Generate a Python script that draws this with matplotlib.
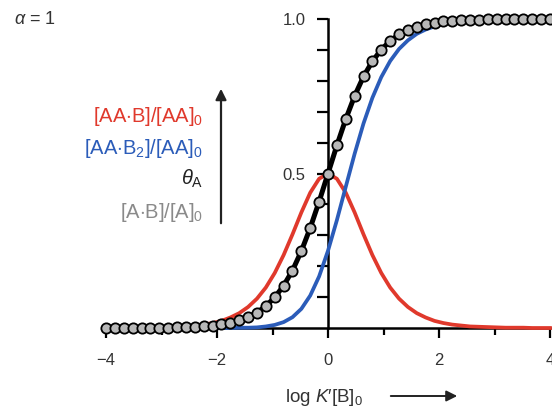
import matplotlib
matplotlib.use("Agg")
import matplotlib.pyplot as plt
import numpy as np
from matplotlib.patches import FancyArrowPatch

plt.rcParams["font.family"] = ["Liberation Sans", "DejaVu Sans"]
plt.rcParams["mathtext.fontset"] = "custom"
plt.rcParams["mathtext.rm"] = "Liberation Sans"
plt.rcParams["mathtext.it"] = "Liberation Sans:italic"
plt.rcParams["mathtext.bf"] = "Liberation Sans:bold"

# log K'[B]0 sampling grid
log_kb = np.linspace(-4, 4, 51)

# theta_A (equals [A.B]/[A]0 for alpha = 1)
theta_a = [0.000, 0.000, 0.000, 0.000, 0.000, 0.001, 0.001, 0.001, 0.002, 0.003,
           0.004, 0.006, 0.008, 0.012, 0.017, 0.025, 0.035, 0.050, 0.071, 0.099,
           0.137, 0.186, 0.249, 0.324, 0.409, 0.500, 0.591, 0.676, 0.751, 0.814,
           0.863, 0.901, 0.929, 0.950, 0.965, 0.975, 0.983, 0.988, 0.992, 0.994,
           0.996, 0.997, 0.998, 0.999, 0.999, 0.999, 1.000, 1.000, 1.000, 1.000,
           1.000]

# [A.B]/[A]0 (monovalent reference, circles)
ab_frac = list(theta_a)

# [AA.B]/[AA]0
aab_frac = [0.000, 0.000, 0.000, 0.001, 0.001, 0.001, 0.002, 0.003, 0.004, 0.005,
            0.008, 0.011, 0.016, 0.023, 0.034, 0.048, 0.068, 0.095, 0.131, 0.178,
            0.236, 0.303, 0.374, 0.438, 0.483, 0.500, 0.483, 0.438, 0.374, 0.303,
            0.236, 0.178, 0.131, 0.095, 0.068, 0.048, 0.034, 0.023, 0.016, 0.011,
            0.008, 0.005, 0.004, 0.003, 0.002, 0.001, 0.001, 0.001, 0.000, 0.000,
            0.000]

# [AA.B2]/[AA]0
aab2_frac = [0.000, 0.000, 0.000, 0.000, 0.000, 0.000, 0.000, 0.000, 0.000, 0.000,
             0.000, 0.000, 0.000, 0.000, 0.000, 0.001, 0.001, 0.002, 0.005, 0.010,
             0.019, 0.035, 0.062, 0.105, 0.167, 0.250, 0.349, 0.457, 0.564, 0.662,
             0.745, 0.812, 0.864, 0.903, 0.931, 0.952, 0.966, 0.976, 0.984, 0.989,
             0.992, 0.995, 0.996, 0.997, 0.998, 0.999, 0.999, 0.999, 1.000, 1.000,
             1.000]

x_major = [-4, -2, 0, 2, 4]
x_major_labels = ["\u22124", "\u22122", "0", "2", "4"]
x_minor = [-3, -1, 1, 3]
y_ticks = [0.1, 0.2, 0.3, 0.4, 0.5, 0.6, 0.7, 0.8, 0.9, 1.0]
y_tick_labels = ["", "", "", "", "0.5", "", "", "", "", "1.0"]

RED = "#e0392c"
BLUE = "#2b5cb9"
GREY_TXT = "#8a8a8a"
TXT = "#333333"

W, H = 552, 408
fig = plt.figure(figsize=(W / 100, H / 100), dpi=100)
ax = fig.add_axes([106 / W, 80 / H, 444 / W, 309 / H])

ax.plot(log_kb, aab_frac, color=RED, lw=2.7, clip_on=False, zorder=3)
ax.plot(log_kb, aab2_frac, color=BLUE, lw=2.7, clip_on=False, zorder=3)
ax.plot(log_kb, theta_a, color="black", lw=3.6, clip_on=False, zorder=4)
ax.plot(log_kb, ab_frac, "o", ms=7.4, mfc="#b8b8b8", mec="black", mew=1.3,
        clip_on=False, zorder=5)

ax.set_xlim(-4, 4)
ax.set_ylim(0, 1)

for side in ("top", "right"):
    ax.spines[side].set_visible(False)
ax.spines["left"].set_position(("data", 0))
for side in ("left", "bottom"):
    ax.spines[side].set_linewidth(1.8)
    ax.spines[side].set_zorder(2)

ax.set_xticks(x_major)
ax.set_xticklabels(x_major_labels)
ax.set_xticks(x_minor, minor=True)
ax.set_yticks(y_ticks)
ax.set_yticklabels(y_tick_labels)

ax.tick_params(axis="x", which="major", direction="out", length=7, width=1.6,
               labelsize=12, labelcolor=TXT, pad=11)
ax.tick_params(axis="x", which="minor", direction="out", length=5, width=1.6)
ax.tick_params(axis="y", which="major", direction="out", length=8, width=1.6,
               labelsize=12, labelcolor=TXT, pad=8)

# axis description on the left
fig.text(203 / W, 1 - 117 / H, r"[AA$\cdot$B]/[AA]$_0$", color=RED,
         fontsize=14.5, ha="right", va="center")
fig.text(203 / W, 1 - 148 / H, r"[AA$\cdot$B$_2$]/[AA]$_0$", color=BLUE,
         fontsize=14.5, ha="right", va="center")
fig.text(203 / W, 1 - 179 / H, r"$\theta_{\mathrm{A}}$", color="#222222",
         fontsize=14.5, ha="right", va="center")
fig.text(203 / W, 1 - 213 / H, r"[A$\cdot$B]/[A]$_0$", color=GREY_TXT,
         fontsize=14.5, ha="right", va="center")

fig.add_artist(FancyArrowPatch((221 / W, 1 - 226 / H), (221 / W, 1 - 86 / H),
                               transform=fig.transFigure, arrowstyle="-|>",
                               mutation_scale=16, lw=1.6, color="#222222"))

fig.text(285 / W, 1 - 398 / H, r"log $K$′[B]$_0$", color=TXT, fontsize=13.5,
         ha="left", va="center")
fig.add_artist(FancyArrowPatch((388 / W, 1 - 396 / H), (460 / W, 1 - 396 / H),
                               transform=fig.transFigure, arrowstyle="-|>",
                               mutation_scale=16, lw=1.4, color="#222222"))

fig.text(14 / W, 1 - 20 / H, r"$\alpha$ = 1", color=TXT, fontsize=13,
         ha="left", va="center")

fig.savefig("out.png", dpi=100)
